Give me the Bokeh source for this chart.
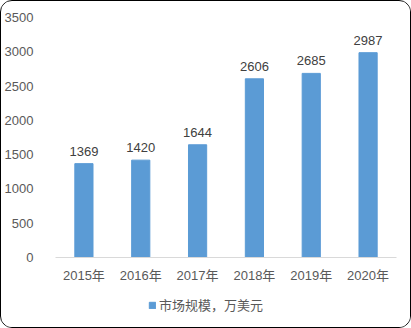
from bokeh.plotting import figure
from bokeh.layouts import column
from bokeh.models import ColumnDataSource, LabelSet, Legend, LegendItem, FactorRange, Range1d, SingleIntervalTicker
from bokeh.core.properties import value
from bokeh.embed import file_html
from bokeh.resources import INLINE

years = ["2015年", "2016年", "2017年", "2018年", "2019年", "2020年"]
values = [1369, 1420, 1644, 2606, 2685, 2987]
series_name = "市场规模，万美元"

FONT = "Liberation Sans, Noto Sans CJK SC"
TXT = "#595959"
BAR = "#5B9BD5"

src = ColumnDataSource(dict(x=years, y=values, lab=[str(v) for v in values]))

p = figure(width=409, height=290, x_range=FactorRange(*years, range_padding=0),
           y_range=Range1d(0, 3500), output_backend="svg", toolbar_location=None,
           min_border_left=52, min_border_right=14, min_border_top=16, min_border_bottom=34)

r = p.vbar(x="x", top="y", width=0.32, source=src, color=BAR)

p.add_layout(LabelSet(x="x", y="y", text="lab", source=src, text_align="center",
                      text_baseline="bottom", y_offset=8, text_color="#404040",
                      text_font_size=value("13px"), text_font=value(FONT)))

p.xgrid.visible = False
p.ygrid.visible = False
p.outline_line_color = None

p.yaxis.ticker = SingleIntervalTicker(interval=500)
p.yaxis.axis_line_color = None
p.yaxis.major_tick_line_color = None
p.yaxis.minor_tick_line_color = None
p.yaxis.major_label_standoff = 16
p.yaxis.major_label_text_font_size = "13px"
p.yaxis.major_label_text_color = TXT
p.yaxis.major_label_text_font = FONT

p.xaxis.axis_line_color = "#D9D9D9"
p.xaxis.axis_line_width = 1
p.xaxis.major_tick_line_color = None
p.xaxis.minor_tick_line_color = None
p.xaxis.major_label_standoff = 4
p.xaxis.major_label_text_font_size = "13px"
p.xaxis.major_label_text_color = TXT
p.xaxis.major_label_text_font = FONT

# legend strip (frame is aligned with the main plot's frame by the column layout)
lf = figure(width=409, height=36, x_range=Range1d(0, 1), y_range=Range1d(0, 1),
            x_axis_location=None, y_axis_location=None,
            output_backend="svg", toolbar_location=None, min_border=0)
lf.grid.visible = False
lf.outline_line_color = None
lr = lf.vbar(x=[-5], top=[-5], bottom=[-6], width=0.1, color=BAR)
legend = Legend(items=[LegendItem(label=series_name, renderers=[lr])], orientation="horizontal",
                location=(93, 13), border_line_color=None, background_fill_alpha=0,
                label_text_font_size="13px", label_text_color=TXT, label_text_font=FONT,
                glyph_width=8, glyph_height=8, label_standoff=3, padding=0, margin=0)
lf.add_layout(legend)

layout = column(p, lf, spacing=0)
layout.styles = {"border": "1px solid #000000", "border-radius": "12px", "overflow": "hidden"}

open("out.html", "w").write(file_html(layout, INLINE))
